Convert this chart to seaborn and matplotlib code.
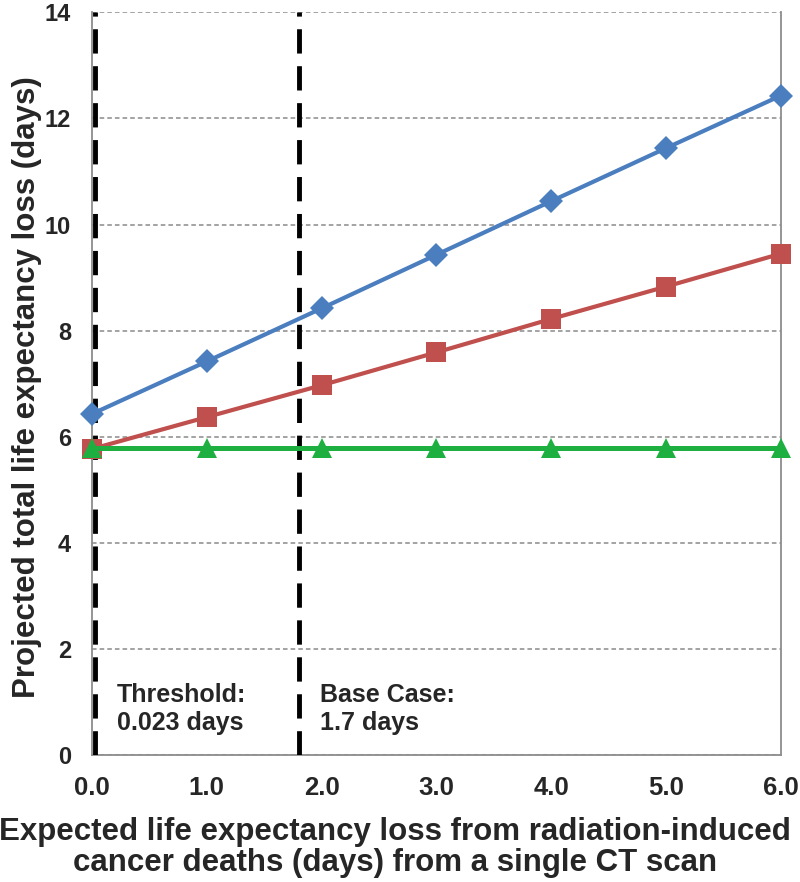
import seaborn as sns
import matplotlib.pyplot as plt
import pandas as pd

# values
days = [0, 1, 2, 3, 4, 5, 6]
total_loss = [6.43, 7.42, 8.42, 9.43, 10.44, 11.44, 12.43]
mid_loss = [5.77, 6.37, 6.97, 7.59, 8.22, 8.83, 9.45]
flat_loss = [5.78, 5.78, 5.78, 5.78, 5.78, 5.78, 5.78]
series_names = ['Total', 'Partial', 'Baseline']

threshold_x = 0.023
base_case_x = 1.8
y_ticks = [0, 2, 4, 6, 8, 10, 12, 14]
x_ticks = [0, 1, 2, 3, 4, 5, 6]


def main():
    df = pd.DataFrame({
        'days': days * 3,
        'loss': total_loss + mid_loss + flat_loss,
        'series': [series_names[0]] * 7 + [series_names[1]] * 7 + [series_names[2]] * 7,
    })

    sns.set_style("white")
    plt.rcParams['font.family'] = ['Liberation Sans', 'DejaVu Sans']
    plt.rcParams['font.weight'] = 'bold'

    fig = plt.figure(figsize=(8, 8.82), dpi=100)
    ax = fig.add_axes([0.115, 0.144, 0.861, 0.842])

    palette = {'Total': '#4A7EBF', 'Partial': '#C0504D', 'Baseline': '#1DB040'}
    markers = {'Total': 'D', 'Partial': 's', 'Baseline': '^'}
    sns.lineplot(data=df, x='days', y='loss', hue='series', style='series',
                 palette=palette, markers=markers, dashes=False, legend=False,
                 ax=ax, clip_on=False, zorder=4)

    # tweak line widths / marker sizes per series
    sizes = {'Total': (3.0, 12), 'Partial': (3.0, 14), 'Baseline': (3.6, 15)}
    for line, name in zip(ax.get_lines(), series_names):
        lw, ms = sizes[name]
        line.set_linewidth(lw)
        line.set_markersize(ms)
        line.set_markeredgewidth(0)
        line.set_clip_on(False)

    # vertical reference lines
    for xv in [threshold_x, base_case_x]:
        ax.axvline(xv, color='black', linewidth=3.5, dashes=(5, 2.6), zorder=3)

    ax.text(0.215, 1.36, 'Threshold:\n0.023 days', fontsize=18, fontweight='bold',
            va='top', ha='left', linespacing=1.22)
    ax.text(1.99, 1.36, 'Base Case:\n1.7 days', fontsize=18, fontweight='bold',
            va='top', ha='left', linespacing=1.22)

    ax.set_xlim(0, 6)
    ax.set_ylim(0, 14)
    ax.set_xticks(x_ticks)
    ax.set_xticklabels([f'{x:.1f}' for x in x_ticks], fontsize=18.5, fontweight='bold')
    ax.set_yticks(y_ticks)
    ax.set_yticklabels([str(y) for y in y_ticks], fontsize=17, fontweight='bold')

    ax.yaxis.grid(True, color='#8a8a8a', linestyle=(0, (3, 2)), linewidth=1.1)
    ax.xaxis.grid(False)
    ax.set_axisbelow(True)

    for side in ['left', 'bottom', 'right']:
        ax.spines[side].set_color('#8c8c8c')
        ax.spines[side].set_linewidth(1.3)
    ax.spines['top'].set_visible(False)

    ax.tick_params(axis='both', which='major', direction='out', length=6,
                   width=1.3, color='#8c8c8c')
    ax.tick_params(axis='y', pad=9)
    ax.tick_params(axis='x', pad=9)

    ax.set_ylabel('Projected total life expectancy loss (days)', fontsize=22.5,
                  fontweight='bold')
    ax.yaxis.set_label_coords(-0.072, 0.495)
    ax.set_xlabel('Expected life expectancy loss from radiation-induced\n'
                  'cancer deaths (days) from a single CT scan', fontsize=22.5,
                  fontweight='bold', linespacing=1.02)
    ax.xaxis.set_label_coords(0.44, -0.084)

    fig.savefig('out.png', dpi=100)
    plt.close(fig)


if __name__ == '__main__':
    main()
